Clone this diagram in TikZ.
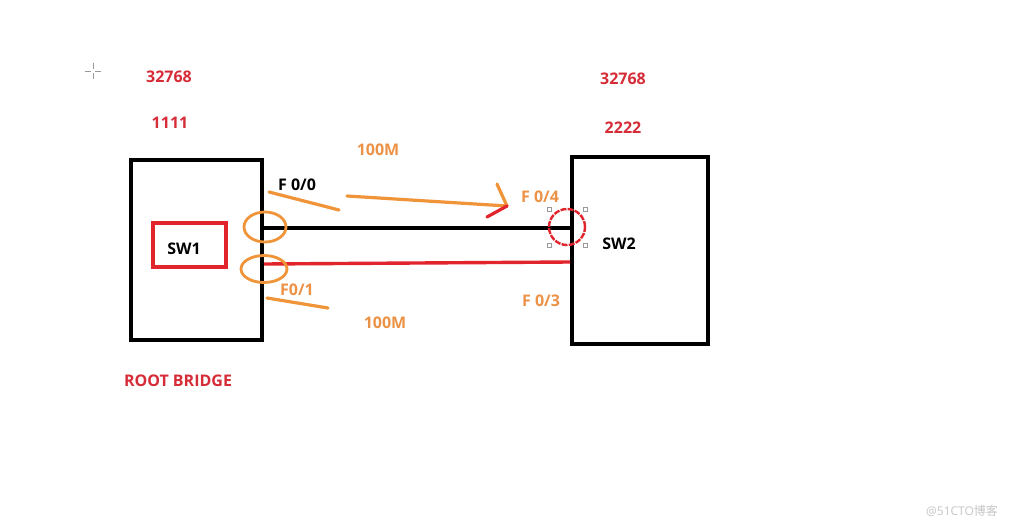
\documentclass[tikz,border=0pt]{standalone}
\usepackage{fontspec}
\setmainfont{Open Sans}
\newfontfamily\cjkfont{Noto Sans CJK SC}
\definecolor{myred}{RGB}{226,36,44}
\definecolor{txtred}{RGB}{214,44,56}
\definecolor{myorange}{RGB}{240,148,58}
\definecolor{txtorange}{RGB}{236,146,70}
\begin{document}
\begin{tikzpicture}[x=1pt,y=-1pt,
  box/.style={draw=black,line width=4pt,minimum width=#1},
  lbl/.style={font=\fontsize{16}{18}\selectfont\bfseries,inner sep=0pt},
  stroke/.style={myorange,line width=3.2pt,line cap=round},
  handle/.style={draw=gray!80,fill=white,line width=0.6pt,minimum size=4pt,inner sep=0pt}]
\useasboundingbox (0,0) rectangle (1017,527);
\fill[white] (0,0) rectangle (1017,527);
% cursor
\draw[gray!80,line width=0.8pt] (85,71)--(91,71) (95,71)--(101,71) (93,63)--(93,69) (93,73)--(93,79);
% boxes
\node[box=131pt,minimum height=180pt] (sw1) at (196.5,250) {};
\node[box=136pt,minimum height=187pt] (sw2) at (640,250.5) {};
\node[draw=myred,line width=3.2pt,minimum width=73pt,minimum height=44pt] (in1) at (189.5,245) {};
\node[lbl] (t1) at (184,249) {SW1};
\node[lbl] (t2) at (619,244) {SW2};
% links
\coordinate (a1) at (sw1.east |- 0,228);
\coordinate (a2) at (sw2.west |- 0,228);
\coordinate (b1) at (sw1.east |- 0,264);
\coordinate (b2) at (sw2.west |- 0,262);
\draw[black,line width=3.6pt] (a1) -- (a2);
\draw[myred,line width=3.4pt] (b1) -- (b2);
% orange circles
\draw[myorange,line width=2.8pt] (265,227) ellipse [x radius=21pt,y radius=15pt];
\draw[myorange,line width=2.8pt] (264,269) ellipse [x radius=23pt,y radius=13.5pt];
% orange strokes
\draw[stroke] (269,192) -- (339,210);
\draw[stroke] (267,298) -- (328,308);
\coordinate (ar1) at (347,196);
\coordinate (ar2) at (507,206);
\draw[stroke] (ar1) -- (ar2);
\draw[stroke] (497,184) -- (ar2);
\draw[myred,line width=3.2pt,line cap=round] (487,217) -- (ar2);
% red dashed circle with handles
\draw[myred,line width=2.4pt,dash pattern=on 6pt off 1.2pt] (567,227) circle [radius=18pt];
\foreach \hx/\hy [count=\i] in {549/209,585/209,549/245,585/245}
  \node[handle] (h\i) at (\hx,\hy) {};
% texts
\node[lbl,txtred] (n1) at (169,77) {32768};
\node[lbl,txtred] (n2) at (170,123) {1111};
\node[lbl,txtred] (n3) at (623,79) {32768};
\node[lbl,txtred] (n4) at (623,128) {2222};
\node[lbl,txtred] (rb) at (178,381) {ROOT BRIDGE};
\node[lbl,black] (f00) at (297,185) {F 0/0};
\node[lbl,txtorange] (f01) at (297,290) {F0/1};
\node[lbl,txtorange] (m1) at (378,150) {100M};
\node[lbl,txtorange] (m2) at (385,323) {100M};
\node[lbl,txtorange] (f04) at (540,197) {F 0/4};
\node[lbl,txtorange] (f03) at (541,301) {F 0/3};
\node[inner sep=0pt,text=gray!45,font=\fontsize{12}{13}\selectfont] (wm) at (962,511) {@51CTO{\cjkfont 博客}};
\end{tikzpicture}
\end{document}
